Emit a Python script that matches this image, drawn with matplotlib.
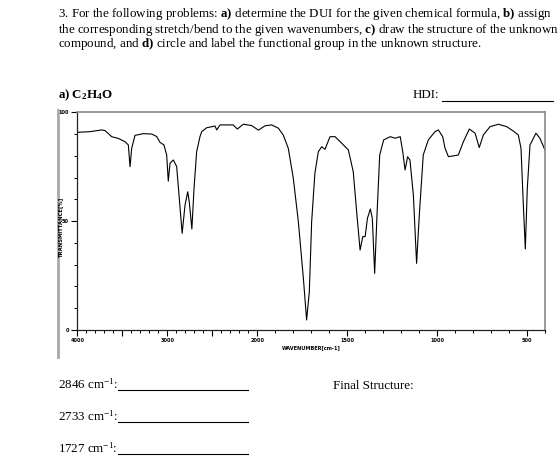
import numpy as np
import matplotlib
matplotlib.use("Agg")
import matplotlib.pyplot as plt
from matplotlib.lines import Line2D

plt.rcParams['font.family'] = 'Liberation Serif'
plt.rcParams['mathtext.fontset'] = 'custom'
plt.rcParams['mathtext.rm'] = 'Liberation Serif'
plt.rcParams['mathtext.it'] = 'Liberation Serif:italic'
plt.rcParams['mathtext.bf'] = 'Liberation Serif:bold'

# IR spectrum (wavenumber cm-1, transmittance %)
wavenumber = [4000, 3859, 3729, 3692, 3618, 3544, 3470, 3433, 3414, 3396,
              3359, 3267, 3173, 3118, 3081, 3037, 3007, 2989, 2970, 2933,
              2896, 2867, 2835, 2803, 2773, 2756, 2727, 2703, 2674, 2637,
              2618, 2563, 2470, 2451, 2414, 2267, 2222, 2156, 2062, 1994,
              1957, 1920, 1883, 1856, 1828, 1800, 1772, 1744, 1726, 1711,
              1698, 1680, 1661, 1642, 1624, 1596, 1568, 1531, 1494, 1467,
              1448, 1429, 1414, 1401, 1388, 1372, 1361, 1348, 1335, 1320,
              1298, 1261, 1235, 1206, 1192, 1179, 1165, 1152, 1133, 1115,
              1100, 1078, 1050, 1013, 994, 970, 957, 938, 883, 855,
              822, 790, 767, 744, 707, 661, 614, 578, 550, 535,
              522, 511, 500, 485, 452, 430, 402]
transmittance = [90.8, 91.1, 91.9, 91.6, 88.8, 88.0, 86.5, 85.0, 75.0, 83.4,
                 89.4, 90.2, 90.0, 88.9, 86.2, 85.0, 80.4, 68.4, 76.6, 78.1,
                 75.1, 60.5, 44.4, 57.4, 63.5, 58.9, 46.4, 65.1, 81.9, 88.8,
                 91.1, 92.9, 93.7, 91.9, 94.2, 94.2, 92.3, 94.5, 93.9, 91.8,
                 93.8, 94.2, 92.7, 89.6, 83.5, 69.7, 49.8, 23.7, 4.6, 17.6,
                 49.8, 72.0, 81.9, 84.2, 83.0, 88.8, 88.8, 85.8, 82.7, 72.7,
                 54.3, 36.7, 42.9, 42.9, 51.3, 55.6, 51.3, 26.0, 52.8, 80.4,
                 87.3, 88.8, 88.1, 88.8, 81.9, 73.5, 79.6, 78.1, 62.0, 30.6,
                 52.8, 80.4, 87.3, 91.1, 91.9, 88.8, 83.5, 79.6, 80.4, 86.5,
                 92.3, 90.4, 83.8, 89.6, 93.4, 94.5, 93.4, 91.4, 89.6, 83.5,
                 57.4, 37.2, 65.1, 85.0, 90.4, 88.1, 82.7]

xtick_labels = [4000, 3000, 2000, 1500, 1000, 500]
questions = ["2846", "2733", "1727"]


# scale changes at 2000 cm-1 (half compression above)
def fwd(w):
    w = np.asarray(w, dtype=float)
    return np.where(w >= 2000, w / 2, w - 1000)


def inv(u):
    u = np.asarray(u, dtype=float)
    return np.where(u >= 1000, 2 * u, u + 1000)


W, H = 560, 458
fig = plt.figure(figsize=(W / 100, H / 100), dpi=100)


def fx(px):
    return px / W


def fy(py):
    return 1 - py / H


ax = fig.add_axes([fx(77.3), fy(330), fx(545.3) - fx(77.3), fy(112.3) - fy(330)])
ax.set_xscale('function', functions=(fwd, inv))
ax.plot(wavenumber, transmittance, color='black', lw=0.8)
ax.set_xlim(4000, 400)
ax.set_ylim(0, 100)

major_x = [w for w in range(4000, 1999, -500)] + [w for w in range(1500, 399, -500)]
minor_x = [w for w in range(4000, 399, -100) if w not in major_x]
ax.set_xticks(major_x)
ax.set_xticklabels([str(w) if w in xtick_labels else "" for w in major_x])
ax.set_xticks(minor_x, minor=True)
ax.set_yticks([0, 50, 100])
ax.set_yticks(range(0, 101, 10), minor=True)
ax.tick_params(which='major', length=4, width=0.8, labelsize=3.6, pad=2)
ax.tick_params(which='minor', length=2.5, width=0.7)
for lab in ax.get_xticklabels() + ax.get_yticklabels():
    lab.set_family('DejaVu Sans')
    lab.set_fontweight('bold')
for side in ['top', 'right']:
    ax.spines[side].set_color('#8a8a8a')
    ax.spines[side].set_linewidth(1.2)
for side in ['left', 'bottom']:
    ax.spines[side].set_color('#222222')
    ax.spines[side].set_linewidth(0.9)

ax.set_xlabel("WAVENUMBER[cm-1]", fontsize=3.6, family='DejaVu Sans',
              fontweight='bold', labelpad=1)
fig.text(fx(60.5), fy(228), "TRANSMITTANCE[%]", rotation=90, fontsize=3.8,
         family='DejaVu Sans', fontweight='bold', ha='center', va='center')

# scanned page edge
fig.add_artist(Line2D([fx(58), fx(58)], [fy(110), fy(357)], color='#a8a8a8', lw=2))

fs = 9.4
fig.text(fx(57.5), fy(17.5),
         r"3. For the following problems: $\mathbf{a)}$ determine the DUI for the given chemical formula, $\mathbf{b)}$ assign",
         fontsize=fs, va='baseline')
fig.text(fx(57.5), fy(32.5),
         r"the corresponding stretch/bend to the given wavenumbers, $\mathbf{c)}$ draw the structure of the unknown",
         fontsize=fs, va='baseline')
fig.text(fx(57.5), fy(47.5),
         r"compound, and $\mathbf{d)}$ circle and label the functional group in the unknown structure.",
         fontsize=fs, va='baseline')

fig.text(fx(57.5), fy(98.5), r"$\mathbf{a)\ C_2H_4O}$", fontsize=fs, va='baseline')
fig.text(fx(413), fy(98.5), "HDI:", fontsize=fs, va='baseline')
fig.add_artist(Line2D([fx(442), fx(553)], [fy(100.5), fy(100.5)], color='black', lw=0.8))

for i, q in enumerate(questions):
    yb = 389 + i * 31.7
    fig.text(fx(57.5), fy(yb), q + r" cm$^{-1}$:", fontsize=fs, va='baseline')
    fig.add_artist(Line2D([fx(118), fx(248)], [fy(yb + 1.2), fy(yb + 1.2)], color='black', lw=0.8))
fig.text(fx(333), fy(389), "Final Structure:", fontsize=fs, va='baseline')

fig.savefig("out.png", dpi=100)
